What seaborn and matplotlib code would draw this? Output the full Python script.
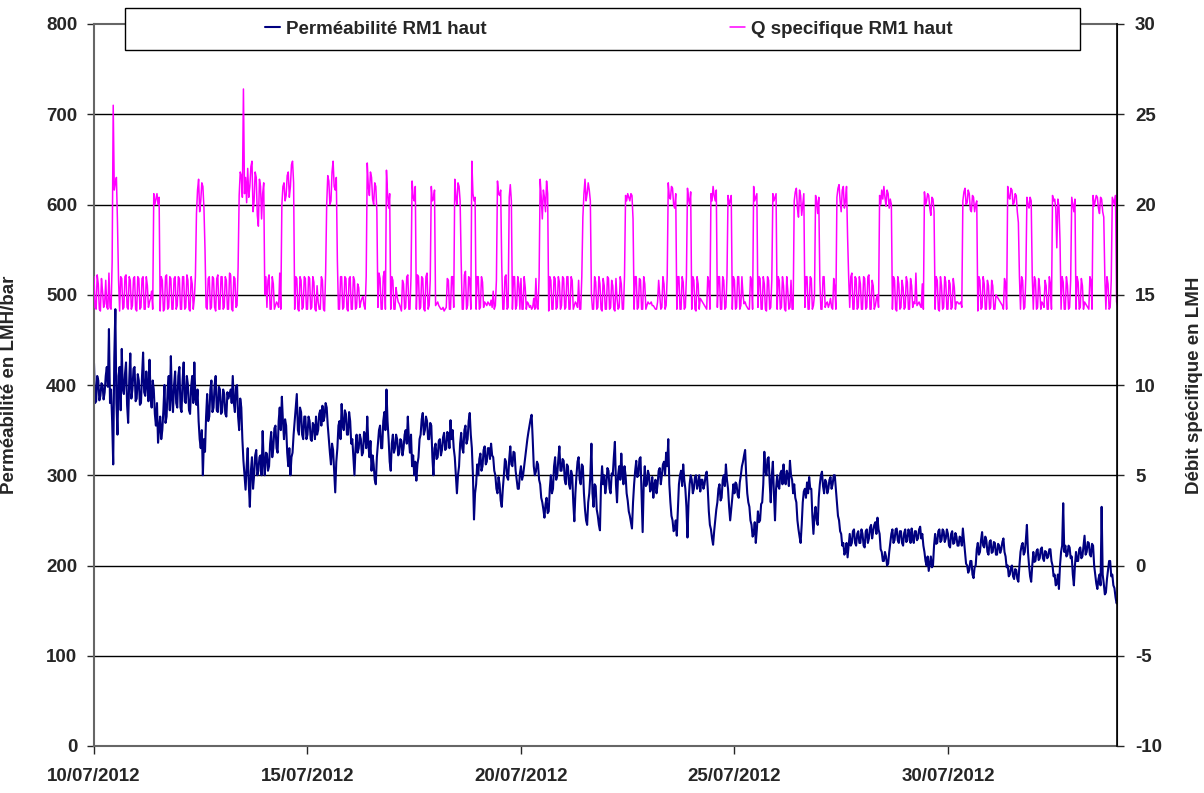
import numpy as np
import pandas as pd
import seaborn as sns
import matplotlib.pyplot as plt
import matplotlib.dates as mdates
from matplotlib.patches import Rectangle

# valeurs, un point toutes les 72 min (0,05 jour), 20 points par jour
# + une seconde série de points décalée de 36 min (l'autre bord de la bande bruitée)

# Perméabilité RM1 haut (LMH/bar)
perm_j00 = [424, 382, 405, 388, 400, 392, 420, 462, 395, 312, 484, 345, 420, 440, 390, 425, 358, 435, 395, 420]
perm_j01 = [385, 405, 380, 436, 388, 400, 428, 375, 395, 355, 336, 365, 350, 400, 365, 410, 432, 370, 415, 375]
perm_j02 = [420, 370, 425, 380, 400, 368, 410, 425, 378, 360, 330, 300, 326, 390, 365, 405, 375, 410, 370, 395]
perm_j03 = [370, 390, 365, 385, 395, 410, 370, 400, 350, 375, 316, 284, 330, 265, 320, 300, 328, 305, 322, 349]
perm_j04 = [300, 324, 310, 348, 330, 355, 325, 375, 387, 340, 355, 310, 300, 325, 360, 390, 345, 370, 340, 365]
perm_j05 = [345, 360, 338, 355, 365, 350, 372, 377, 365, 375, 340, 312, 328, 281, 330, 360, 379, 350, 368, 345]
perm_j06 = [360, 340, 300, 345, 330, 340, 325, 345, 365, 320, 305, 312, 290, 335, 355, 330, 370, 395, 340, 305]
perm_j07 = [345, 330, 340, 325, 338, 330, 350, 365, 325, 310, 300, 294, 320, 345, 369, 350, 360, 340, 355, 300]
perm_j08 = [335, 320, 340, 328, 347, 330, 345, 361, 350, 320, 280, 310, 347, 325, 355, 340, 369, 330, 251, 290]
perm_j09 = [300, 324, 310, 332, 315, 330, 335, 320, 300, 280, 290, 265, 300, 315, 295, 332, 310, 325, 295, 285]
perm_j10 = [310, 300, 320, 340, 355, 367, 310, 304, 312, 290, 270, 253, 275, 260, 300, 285, 320, 300, 332, 305]
perm_j11 = [316, 290, 310, 285, 300, 249, 300, 320, 290, 310, 262, 245, 280, 335, 265, 288, 255, 239, 310, 300]
perm_j12 = [290, 305, 280, 300, 337, 270, 310, 324, 290, 300, 272, 255, 241, 290, 316, 300, 320, 237, 310, 290]
perm_j13 = [300, 285, 275, 295, 290, 308, 300, 315, 325, 340, 270, 250, 240, 233, 290, 305, 312, 285, 231, 290]
perm_j14 = [295, 285, 300, 290, 282, 295, 290, 304, 260, 240, 223, 250, 270, 290, 275, 300, 312, 285, 250, 275]
perm_j15 = [280, 290, 275, 300, 315, 328, 280, 265, 245, 235, 225, 260, 250, 270, 326, 300, 320, 270, 315, 250]
perm_j16 = [300, 285, 305, 312, 290, 300, 316, 295, 290, 270, 240, 225, 270, 285, 292, 298, 285, 235, 265, 245]
perm_j17 = [290, 304, 280, 292, 285, 298, 290, 300, 270, 250, 235, 225, 215, 209, 235, 225, 240, 222, 238, 225]
perm_j18 = [235, 220, 240, 230, 245, 238, 248, 253, 235, 215, 205, 210, 202, 225, 240, 228, 241, 225, 238, 222]
perm_j19 = [240, 228, 236, 241, 225, 238, 230, 243, 235, 215, 200, 194, 210, 200, 235, 225, 240, 228, 238, 230]
perm_j20 = [235, 220, 238, 225, 232, 222, 230, 241, 215, 200, 195, 205, 186, 200, 225, 215, 237, 220, 228, 212]
perm_j21 = [228, 215, 225, 212, 222, 218, 230, 210, 200, 190, 200, 185, 195, 182, 215, 225, 215, 245, 200, 182]
perm_j22 = [215, 205, 218, 208, 220, 205, 215, 210, 218, 200, 190, 180, 174, 215, 269, 222, 212, 220, 210, 178]
perm_j23 = [215, 205, 220, 210, 233, 215, 225, 210, 222, 190, 174, 190, 265, 180, 170, 195, 205, 190, 175, 158]

perm_m00 = [380, 410, 383, 402, 384, 410, 398, 380, 360, 430, 380, 410, 372, 395, 412, 378, 405, 385, 418, 382]
perm_m01 = [412, 378, 410, 392, 415, 382, 390, 405, 368, 380, 352, 340, 372, 358, 395, 372, 385, 400, 380, 410]
perm_m02 = [375, 405, 382, 410, 372, 398, 380, 385, 395, 340, 350, 340, 365, 360, 395, 370, 400, 372, 398, 368]
perm_m03 = [395, 368, 392, 390, 380, 380, 398, 365, 385, 340, 300, 310, 290, 305, 285, 322, 300, 320, 300, 315]
perm_m04 = [325, 305, 335, 320, 352, 330, 360, 350, 360, 362, 325, 330, 320, 345, 375, 350, 375, 345, 365, 340]
perm_m05 = [365, 340, 358, 340, 345, 368, 355, 360, 380, 355, 325, 335, 305, 315, 355, 340, 355, 372, 345, 370]
perm_m06 = [335, 320, 330, 325, 345, 322, 348, 330, 335, 338, 322, 295, 320, 350, 330, 360, 350, 360, 315, 335]
perm_m07 = [325, 345, 322, 340, 322, 345, 335, 340, 345, 322, 315, 312, 340, 362, 345, 365, 340, 358, 320, 330]
perm_m08 = [318, 338, 322, 342, 328, 348, 330, 340, 330, 300, 300, 335, 330, 350, 335, 360, 345, 300, 280, 312]
perm_m09 = [318, 305, 328, 312, 330, 318, 322, 305, 285, 298, 272, 285, 318, 298, 318, 312, 326, 305, 285, 302]
perm_m10 = [295, 310, 330, 348, 362, 340, 300, 315, 295, 275, 262, 268, 258, 285, 280, 310, 295, 318, 305, 318]
perm_m11 = [295, 312, 290, 305, 270, 280, 315, 295, 312, 280, 250, 270, 300, 280, 290, 262, 245, 290, 290, 280]
perm_m12 = [308, 285, 302, 320, 290, 300, 295, 300, 310, 280, 260, 248, 270, 305, 298, 318, 280, 290, 288, 305]
perm_m13 = [282, 298, 290, 280, 305, 290, 312, 300, 310, 290, 255, 238, 250, 262, 300, 288, 295, 265, 270, 300]
perm_m14 = [280, 298, 285, 300, 295, 285, 300, 285, 245, 230, 238, 262, 285, 272, 295, 288, 295, 265, 262, 290]
perm_m15 = [292, 278, 292, 310, 322, 300, 270, 250, 232, 248, 240, 248, 268, 290, 305, 318, 292, 300, 280, 285]
perm_m16 = [288, 302, 290, 295, 305, 288, 300, 280, 275, 250, 232, 245, 282, 275, 280, 285, 255, 255, 250, 275]
perm_m17 = [300, 288, 295, 280, 295, 285, 300, 285, 255, 238, 222, 212, 225, 222, 222, 238, 225, 235, 225, 240]
perm_m18 = [222, 238, 225, 242, 230, 245, 235, 240, 218, 205, 215, 200, 215, 235, 225, 240, 228, 238, 225, 236]
perm_m19 = [226, 240, 225, 230, 238, 228, 240, 230, 222, 205, 210, 202, 198, 222, 224, 238, 226, 240, 226, 240]
perm_m20 = [222, 235, 224, 236, 222, 232, 222, 228, 202, 192, 205, 190, 198, 218, 212, 228, 222, 232, 215, 226]
perm_m21 = [214, 226, 212, 224, 214, 226, 215, 198, 188, 198, 188, 196, 185, 200, 222, 212, 228, 215, 188, 200]
perm_m22 = [204, 216, 206, 218, 208, 216, 208, 218, 205, 188, 178, 190, 200, 222, 215, 210, 222, 208, 190, 200]
perm_m23 = [205, 218, 208, 222, 212, 226, 212, 224, 200, 180, 185, 178, 190, 168, 185, 205, 188, 178, 165, 160]

# Q specifique RM1 haut (LMH)
q_j00 = [16.0, 14.2, 15.6, 14.1, 15.2, 14.5, 14.3, 16.2, 14.2, 25.5, 21.2, 19.0, 14.1, 15.9, 14.3, 16.1, 14.2, 15.8, 14.4, 16.0]
q_j01 = [14.1, 15.9, 14.3, 16.0, 14.2, 15.5, 14.6, 15.2, 20.6, 20.3, 20.0, 14.1, 15.8, 14.2, 16.1, 14.3, 15.9, 14.2, 16.0, 14.4]
q_j02 = [15.9, 14.2, 16.0, 14.3, 15.8, 14.1, 15.6, 14.8, 19.5, 21.4, 20.2, 21.0, 17.5, 14.2, 16.0, 14.3, 15.9, 14.1, 16.1, 14.2]
q_j03 = [16.0, 14.3, 15.8, 14.2, 16.1, 14.1, 15.9, 14.4, 20.5, 21.6, 26.4, 21.5, 22.0, 21.0, 22.4, 20.2, 21.5, 18.8, 21.0, 20.6]
q_j04 = [15.0, 14.3, 16.1, 14.2, 15.6, 14.4, 14.5, 16.2, 20.0, 21.2, 20.5, 21.8, 21.0, 22.4, 14.2, 15.9, 14.1, 15.8, 14.3, 15.9]
q_j05 = [14.2, 15.9, 14.3, 15.7, 14.1, 14.6, 14.2, 15.8, 14.1, 20.0, 21.3, 20.2, 22.4, 20.8, 16.9, 14.2, 16.0, 14.3, 15.9, 14.1]
q_j06 = [16.0, 14.2, 15.8, 14.3, 15.4, 14.6, 14.9, 14.2, 22.3, 20.5, 21.5, 20.0, 21.0, 14.3, 15.9, 14.2, 16.3, 21.9, 19.8, 14.2]
q_j07 = [15.8, 14.2, 14.9, 14.5, 14.1, 15.6, 14.3, 16.1, 14.2, 21.3, 20.2, 14.2, 16.0, 14.3, 15.9, 14.1, 16.2, 14.4, 21.0, 20.3]
q_j08 = [14.4, 14.6, 14.3, 14.2, 14.1, 14.3, 15.8, 14.2, 16.0, 21.4, 20.0, 21.0, 16.8, 14.2, 16.3, 14.4, 15.9, 22.4, 20.2, 14.2]
q_j09 = [16.0, 14.3, 15.7, 14.6, 14.4, 14.5, 14.7, 15.2, 14.4, 21.3, 20.5, 16.6, 14.2, 16.1, 14.3, 21.1, 14.2, 16.0, 14.4, 15.6]
q_j10 = [15.9, 14.2, 15.4, 14.6, 14.3, 14.2, 14.8, 15.9, 14.2, 21.4, 19.2, 20.4, 21.3, 14.1, 15.8, 14.2, 15.9, 14.3, 15.7, 14.4]
q_j11 = [15.9, 14.3, 16.0, 14.2, 15.8, 14.4, 14.5, 15.8, 14.2, 19.3, 21.4, 20.6, 20.8, 15.0, 14.2, 15.7, 14.3, 15.6, 14.1, 15.5]
q_j12 = [14.2, 15.9, 14.3, 15.5, 14.1, 14.8, 14.3, 15.6, 14.2, 20.5, 20.6, 20.2, 20.5, 14.2, 16.0, 14.3, 15.8, 14.2, 15.6, 14.4]
q_j13 = [14.5, 14.6, 14.4, 14.2, 14.6, 15.0, 14.3, 15.6, 14.4, 21.2, 20.3, 20.9, 19.8, 14.2, 16.0, 14.2, 15.7, 14.3, 20.9, 20.0]
q_j14 = [14.2, 15.8, 14.1, 15.6, 14.8, 14.6, 14.4, 14.2, 15.7, 20.6, 21.0, 20.2, 14.3, 16.0, 14.2, 15.8, 14.3, 20.5, 20.2, 14.2]
q_j15 = [15.8, 14.3, 16.0, 14.4, 15.0, 14.6, 14.3, 14.2, 15.8, 21.0, 20.4, 14.3, 15.9, 14.2, 15.6, 14.1, 15.8, 14.3, 20.6, 20.4]
q_j16 = [14.2, 15.8, 14.3, 15.5, 14.1, 15.2, 14.3, 14.2, 20.2, 20.9, 19.3, 20.5, 20.0, 14.3, 16.0, 14.2, 15.9, 14.4, 20.5, 19.5]
q_j17 = [15.8, 14.2, 16.0, 14.5, 14.3, 14.8, 14.2, 15.4, 20.4, 21.1, 19.6, 21.0, 20.2, 18.2, 14.3, 16.2, 14.2, 15.9, 14.3, 15.6]
q_j18 = [14.2, 15.9, 14.3, 16.1, 14.2, 15.5, 14.4, 15.0, 20.5, 20.8, 21.0, 19.9, 20.6, 20.3, 14.2, 15.8, 14.1, 15.6, 14.3, 15.4]
q_j19 = [14.3, 15.7, 14.2, 15.5, 14.6, 16.2, 14.5, 14.4, 15.6, 20.7, 20.2, 20.5, 19.4, 20.3, 14.2, 15.8, 14.1, 15.5, 14.3, 15.7]
q_j20 = [14.2, 15.6, 14.3, 15.4, 14.6, 14.5, 14.6, 20.2, 20.9, 20.1, 20.6, 19.6, 20.4, 20.0, 14.1, 15.8, 14.3, 15.6, 14.2, 15.5]
q_j21 = [14.3, 15.5, 14.2, 14.9, 14.7, 14.5, 14.2, 15.6, 21.0, 20.3, 20.8, 20.1, 20.5, 19.0, 14.2, 15.8, 14.3, 20.4, 19.8, 20.2]
q_j22 = [14.2, 15.8, 14.3, 15.4, 14.6, 14.3, 15.5, 14.2, 15.6, 20.5, 20.3, 17.6, 19.9, 14.2, 15.7, 14.2, 15.5, 14.3, 20.4, 19.6]
q_j23 = [14.2, 15.7, 14.3, 15.5, 14.6, 14.4, 14.2, 15.8, 20.5, 20.2, 20.4, 19.5, 20.3, 19.3, 14.2, 15.6, 14.3, 20.4, 20.0, 14.6]

q_m00 = [14.3, 16.1, 14.2, 15.9, 14.3, 15.8, 14.2, 14.3, 16.8, 20.8, 21.5, 15.8, 16.0, 14.2, 16.0, 14.3, 16.0, 14.2, 15.9, 14.2]
q_m01 = [16.0, 14.2, 15.9, 14.2, 16.0, 14.3, 14.8, 14.2, 20.0, 20.6, 20.4, 16.0, 14.1, 16.0, 14.2, 16.0, 14.2, 15.9, 14.2, 16.0]
q_m02 = [14.2, 16.0, 14.2, 16.1, 14.2, 16.0, 14.2, 16.0, 20.8, 19.6, 21.2, 19.8, 14.3, 15.9, 14.2, 16.0, 14.3, 15.9, 14.2, 16.0]
q_m03 = [14.2, 16.0, 14.2, 16.2, 14.2, 16.0, 14.3, 16.5, 21.8, 20.4, 20.6, 20.1, 20.4, 22.1, 19.6, 21.8, 19.4, 21.4, 19.2, 21.2]
q_m04 = [16.0, 15.8, 14.2, 16.0, 14.2, 14.6, 14.3, 14.2, 21.0, 20.2, 21.6, 20.4, 22.2, 21.2, 16.0, 14.2, 16.0, 14.2, 16.0, 14.2]
q_m05 = [16.0, 14.2, 16.0, 14.2, 15.5, 14.2, 16.0, 14.2, 16.2, 21.6, 20.0, 21.8, 21.0, 21.5, 14.2, 16.0, 14.2, 16.0, 14.2, 15.9]
q_m06 = [14.2, 16.0, 14.2, 15.6, 14.3, 14.8, 14.4, 16.0, 21.0, 21.8, 20.3, 21.2, 19.6, 16.2, 14.2, 16.0, 14.2, 20.6, 20.6, 16.0]
q_m07 = [14.2, 15.4, 14.6, 14.3, 15.8, 14.2, 16.0, 14.2, 16.0, 20.4, 21.0, 16.1, 14.2, 16.0, 14.2, 16.0, 14.2, 15.8, 20.2, 20.8]
q_m08 = [14.5, 14.4, 14.2, 14.3, 14.2, 15.9, 14.2, 16.0, 14.3, 20.4, 21.2, 20.2, 14.2, 16.1, 14.2, 16.0, 14.2, 20.6, 20.4, 16.0]
q_m09 = [14.2, 16.0, 14.3, 14.5, 14.6, 14.4, 14.3, 14.2, 15.8, 20.6, 20.8, 14.2, 16.0, 14.2, 20.4, 20.2, 16.0, 14.2, 16.0, 14.2]
q_m10 = [14.2, 16.0, 14.2, 14.5, 14.4, 14.3, 14.2, 14.3, 16.0, 20.4, 20.8, 19.6, 20.6, 16.0, 14.2, 16.0, 14.2, 16.0, 14.2, 16.0]
q_m11 = [14.2, 16.0, 14.2, 16.0, 14.2, 14.6, 14.3, 14.2, 16.0, 20.6, 20.2, 21.2, 20.2, 14.2, 16.0, 14.2, 16.0, 14.2, 15.9, 14.2]
q_m12 = [16.0, 14.2, 15.8, 14.2, 15.9, 14.2, 16.0, 14.2, 16.0, 20.2, 20.4, 20.6, 19.2, 16.0, 14.2, 15.9, 14.2, 16.0, 14.2, 14.6]
q_m13 = [14.5, 14.4, 14.3, 14.2, 15.8, 14.2, 16.0, 14.2, 16.0, 20.4, 21.0, 20.0, 20.6, 16.0, 14.2, 16.0, 14.2, 16.0, 20.3, 20.7]
q_m14 = [16.0, 14.2, 16.0, 14.2, 14.7, 14.5, 14.3, 16.0, 14.2, 20.2, 20.5, 20.8, 16.0, 14.2, 16.0, 14.2, 16.0, 20.0, 20.5, 16.0]
q_m15 = [14.2, 16.0, 14.2, 16.0, 14.5, 14.4, 14.2, 16.0, 14.2, 20.2, 20.6, 16.0, 14.2, 16.0, 14.2, 16.0, 14.2, 15.8, 20.2, 20.6]
q_m16 = [16.0, 14.2, 16.0, 14.2, 16.0, 14.2, 15.8, 14.2, 20.7, 19.8, 20.8, 19.4, 20.6, 16.0, 14.2, 16.0, 14.2, 15.0, 20.2, 20.4]
q_m17 = [14.2, 16.0, 14.3, 14.6, 14.5, 14.3, 15.9, 14.2, 20.9, 20.2, 20.8, 19.8, 21.0, 16.0, 16.0, 14.2, 16.0, 14.2, 16.0, 14.2]
q_m18 = [16.0, 14.2, 16.0, 14.2, 15.8, 14.2, 14.8, 14.3, 20.0, 20.3, 20.4, 20.8, 19.8, 20.0, 16.0, 14.2, 16.0, 14.2, 15.8, 14.2]
q_m19 = [16.0, 14.2, 15.9, 14.3, 14.5, 14.4, 14.6, 14.3, 14.2, 20.0, 20.6, 19.8, 20.4, 19.6, 16.0, 14.2, 16.0, 14.2, 16.0, 14.2]
q_m20 = [15.8, 14.2, 15.9, 14.2, 14.6, 14.5, 14.3, 20.7, 20.0, 20.8, 19.7, 20.5, 19.6, 20.2, 16.0, 14.2, 16.0, 14.2, 15.8, 14.2]
q_m21 = [15.8, 14.2, 15.0, 14.8, 14.6, 14.4, 15.9, 14.2, 20.4, 20.9, 20.0, 20.6, 19.6, 16.0, 16.0, 14.2, 16.0, 20.0, 20.4, 16.0]
q_m22 = [16.0, 14.2, 15.9, 14.2, 14.5, 15.8, 14.2, 16.0, 14.2, 20.2, 19.8, 20.3, 18.0, 16.0, 14.2, 16.0, 14.2, 15.8, 20.0, 20.3]
q_m23 = [16.0, 14.2, 15.9, 14.2, 14.5, 14.3, 16.0, 14.2, 19.9, 20.5, 19.8, 20.4, 19.6, 16.0, 16.0, 14.2, 15.8, 20.2, 20.5, 14.4]

perm_a = sum([perm_j00, perm_j01, perm_j02, perm_j03, perm_j04, perm_j05, perm_j06, perm_j07,
              perm_j08, perm_j09, perm_j10, perm_j11, perm_j12, perm_j13, perm_j14, perm_j15,
              perm_j16, perm_j17, perm_j18, perm_j19, perm_j20, perm_j21, perm_j22, perm_j23], [])
perm_b = sum([perm_m00, perm_m01, perm_m02, perm_m03, perm_m04, perm_m05, perm_m06, perm_m07,
              perm_m08, perm_m09, perm_m10, perm_m11, perm_m12, perm_m13, perm_m14, perm_m15,
              perm_m16, perm_m17, perm_m18, perm_m19, perm_m20, perm_m21, perm_m22, perm_m23], [])
q_a = sum([q_j00, q_j01, q_j02, q_j03, q_j04, q_j05, q_j06, q_j07,
           q_j08, q_j09, q_j10, q_j11, q_j12, q_j13, q_j14, q_j15,
           q_j16, q_j17, q_j18, q_j19, q_j20, q_j21, q_j22, q_j23], [])
q_b = sum([q_m00, q_m01, q_m02, q_m03, q_m04, q_m05, q_m06, q_m07,
           q_m08, q_m09, q_m10, q_m11, q_m12, q_m13, q_m14, q_m15,
           q_m16, q_m17, q_m18, q_m19, q_m20, q_m21, q_m22, q_m23], [])

dates_a = pd.date_range("2012-07-10", periods=len(perm_a), freq="72min")
dates_b = dates_a + pd.Timedelta(minutes=36)
df = pd.concat([
    pd.DataFrame({"Date": dates_a, "Perméabilité RM1 haut": perm_a, "Q specifique RM1 haut": q_a}),
    pd.DataFrame({"Date": dates_b, "Perméabilité RM1 haut": perm_b, "Q specifique RM1 haut": q_b}),
]).sort_values("Date").reset_index(drop=True)

sns.set_style("white")
plt.rcParams['font.family'] = ['Liberation Sans', 'DejaVu Sans']
plt.rcParams['font.weight'] = 'bold'
plt.rcParams['axes.unicode_minus'] = False
fs = 13.5

fig = plt.figure(figsize=(12.04, 7.93), dpi=100)
ax = fig.add_axes([94/1204, 47/793, 1023/1204, 722/793])
ax2 = ax.twinx()

sns.lineplot(data=df, x="Date", y="Perméabilité RM1 haut", ax=ax, color="#000080",
             lw=1.5, estimator=None, label="Perméabilité RM1 haut")
sns.lineplot(data=df, x="Date", y="Q specifique RM1 haut", ax=ax2, color="#FF00FF",
             lw=1.1, estimator=None, label="Q specifique RM1 haut")
ax.get_legend().remove()
ax2.get_legend().remove()

ax.set_ylim(0, 800)
ax2.set_ylim(-10, 30)
ax.set_yticks(range(0, 801, 100))
ax2.set_yticks(range(-10, 31, 5))
ax.set_xlim(pd.Timestamp("2012-07-10"), pd.Timestamp("2012-07-10") + pd.Timedelta(days=23.96))
ax.set_xticks(pd.date_range("2012-07-10", periods=5, freq="5D"))
ax.xaxis.set_major_formatter(mdates.DateFormatter("%d/%m/%Y"))

for y in range(100, 800, 100):
    ax.axhline(y, color="black", lw=1, zorder=0)

ax.tick_params(axis='x', direction='out', length=6, width=1, pad=10, labelsize=fs, bottom=True)
ax.tick_params(axis='y', direction='out', length=5, width=1, pad=7, labelsize=fs, left=True)
ax2.tick_params(axis='y', direction='out', length=5, width=1, pad=8, labelsize=fs, right=True)

for sp in ['left', 'bottom', 'top']:
    ax.spines[sp].set_color('#666666')
    ax.spines[sp].set_linewidth(1.5)
ax2.spines['right'].set_color('black')
ax2.spines['right'].set_linewidth(1.2)
for sp in ['left', 'bottom', 'top']:
    ax2.spines[sp].set_visible(False)

ax.set_xlabel("")
ax.set_ylabel("Perméabilité en LMH/bar", fontsize=fs, fontweight='bold')
ax2.set_ylabel("Débit spécifique en LMH", fontsize=fs, fontweight='bold')
ax.yaxis.set_label_coords((18 - 94) / 1023, 0.5)
ax2.yaxis.set_label_coords((1186 - 94) / 1023, 0.5)

# cadre de la légende, au-dessus du graphique
fig.add_artist(Rectangle((125/1204, 1 - 50/793), 955/1204, 42/793, transform=fig.transFigure,
                         facecolor='white', edgecolor='black', lw=1, zorder=5))
handles = [ax.get_lines()[0], ax2.get_lines()[0]]
leg = fig.legend(handles, ["Perméabilité RM1 haut", "Q specifique RM1 haut"],
                 loc='center', bbox_to_anchor=(609/1204, 1 - 29/793), ncol=2, frameon=False,
                 handlelength=0.8, handletextpad=0.3, columnspacing=13, fontsize=fs)
leg.set_zorder(10)

fig.savefig("out.png", dpi=100)
